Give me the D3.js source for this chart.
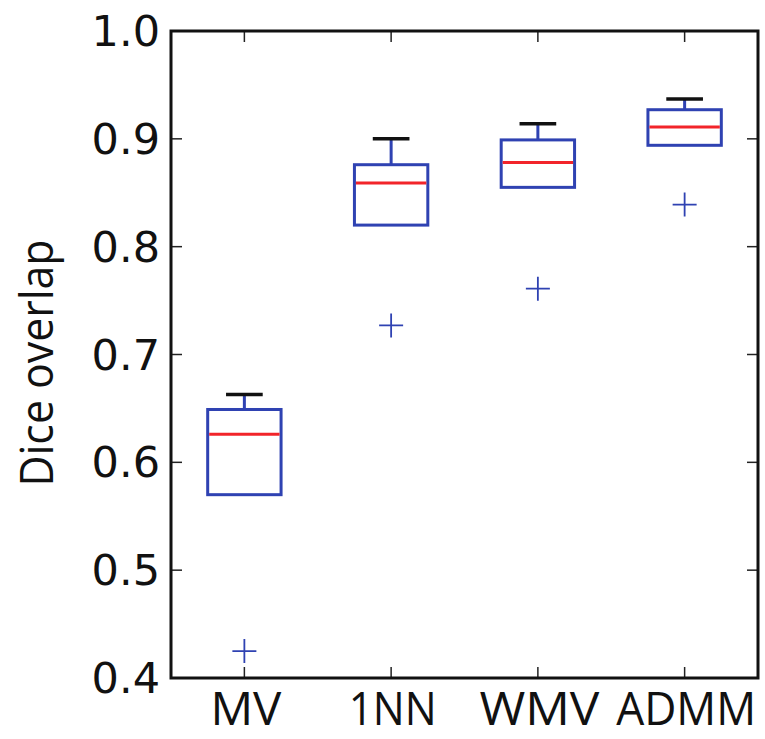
<!DOCTYPE html>
<html>
<head>
<meta charset="utf-8">
<script src="https://cdn.jsdelivr.net/npm/d3@7.9.0/dist/d3.min.js"></script>
<style>
  body { margin: 0; background: #fff; }
  svg { display: block; }
</style>
</head>
<body>
<svg id="chart" width="765" height="739"></svg>
<script>
const methods = ['MV', '1NN', 'WMV', 'ADMM'];
const whiskerHigh = [0.663, 0.900, 0.914, 0.937];
const q3 = [0.649, 0.876, 0.899, 0.927];
const median = [0.626, 0.859, 0.878, 0.911];
const q1 = [0.570, 0.820, 0.855, 0.894];
const whiskerLow = [0.570, 0.820, 0.855, 0.894];
const outliers = [0.425, 0.727, 0.761, 0.839];
const yTicks = [0.4, 0.5, 0.6, 0.7, 0.8, 0.9, 1.0];

const svg = d3.select('#chart');
const plotL = 171, plotR = 758, plotT = 31, plotB = 678;

// positions 1..4, like a matplotlib boxplot with xlim 0.5..4.5
const x = d3.scaleLinear().domain([0.5, 4.5]).range([plotL, plotR]);
const y = d3.scaleLinear().domain([0.4, 1.0]).range([plotB, plotT]);

const blue = '#2f42b2';
const red = '#f2242a';
const boxW = x(1.5) - x(1);   // box width 0.5
const capW = x(1.25) - x(1);  // cap width 0.25
const labelLen = { 'MV': 71, '1NN': 88, 'WMV': 120, 'ADMM': 140 };

const data = methods.map((m, i) => ({
  m, pos: i + 1,
  hi: whiskerHigh[i], q3: q3[i], med: median[i], q1: q1[i], lo: whiskerLow[i], out: outliers[i]
}));

const g = svg.append('g');

// ticks, inward on all four sides
const tickLen = 11;
yTicks.forEach(t => {
  g.append('line').attr('x1', plotL).attr('x2', plotL + tickLen)
    .attr('y1', y(t)).attr('y2', y(t)).attr('stroke', '#222').attr('stroke-width', 1.5);
  g.append('line').attr('x1', plotR).attr('x2', plotR - tickLen)
    .attr('y1', y(t)).attr('y2', y(t)).attr('stroke', '#222').attr('stroke-width', 1.5);
  g.append('text').attr('x', plotL - 11).attr('y', y(t))
    .attr('text-anchor', 'end').attr('dominant-baseline', 'central')
    .attr('font-family', 'DejaVu Sans').attr('font-size', 43).attr('fill', '#111')
    .text(d3.format('.1f')(t));
});
data.forEach(d => {
  g.append('line').attr('x1', x(d.pos)).attr('x2', x(d.pos))
    .attr('y1', plotT).attr('y2', plotT + tickLen).attr('stroke', '#222').attr('stroke-width', 1.5);
  g.append('line').attr('x1', x(d.pos)).attr('x2', x(d.pos))
    .attr('y1', plotB).attr('y2', plotB - tickLen).attr('stroke', '#222').attr('stroke-width', 1.5);
  g.append('text').attr('x', x(d.pos) + 1.5).attr('y', 725)
    .attr('text-anchor', 'middle')
    .attr('font-family', 'Open Sans').attr('font-size', 45).attr('fill', '#111')
    .attr('textLength', labelLen[d.m]).attr('lengthAdjust', 'spacingAndGlyphs')
    .text(d.m);
});

// boxes
const boxes = g.selectAll('.box').data(data).join('g').attr('class', 'box');
boxes.append('line')
  .attr('x1', d => x(d.pos)).attr('x2', d => x(d.pos))
  .attr('y1', d => y(d.q3)).attr('y2', d => y(d.hi))
  .attr('stroke', blue).attr('stroke-width', 3);
boxes.append('line')
  .attr('x1', d => x(d.pos)).attr('x2', d => x(d.pos))
  .attr('y1', d => y(d.q1)).attr('y2', d => y(d.lo))
  .attr('stroke', blue).attr('stroke-width', 3);
boxes.append('line')
  .attr('x1', d => x(d.pos) - capW / 2).attr('x2', d => x(d.pos) + capW / 2)
  .attr('y1', d => y(d.hi)).attr('y2', d => y(d.hi))
  .attr('stroke', '#111').attr('stroke-width', 3.5);
boxes.append('line')
  .attr('x1', d => x(d.pos) - capW / 2).attr('x2', d => x(d.pos) + capW / 2)
  .attr('y1', d => y(d.lo)).attr('y2', d => y(d.lo))
  .attr('stroke', d => d.lo === d.q1 ? 'none' : '#111').attr('stroke-width', 3.5);
boxes.append('rect')
  .attr('x', d => x(d.pos) - boxW / 2).attr('width', boxW)
  .attr('y', d => y(d.q3)).attr('height', d => y(d.q1) - y(d.q3))
  .attr('fill', 'none').attr('stroke', blue).attr('stroke-width', 3);
boxes.append('line')
  .attr('x1', d => x(d.pos) - boxW / 2 + 1.5).attr('x2', d => x(d.pos) + boxW / 2 - 1.5)
  .attr('y1', d => y(d.med)).attr('y2', d => y(d.med))
  .attr('stroke', red).attr('stroke-width', 3);

// outliers as "+"
const plus = 12;
boxes.append('path')
  .attr('d', d => `M${x(d.pos) - plus},${y(d.out)}H${x(d.pos) + plus}M${x(d.pos)},${y(d.out) - plus}V${y(d.out) + plus}`)
  .attr('stroke', blue).attr('stroke-width', 1.8).attr('fill', 'none');

// frame
g.append('rect').attr('x', plotL).attr('y', plotT)
  .attr('width', plotR - plotL).attr('height', plotB - plotT)
  .attr('fill', 'none').attr('stroke', '#111').attr('stroke-width', 3);

// y label
g.append('text')
  .attr('transform', `translate(53,363) rotate(-90)`)
  .attr('text-anchor', 'middle')
  .attr('font-family', 'Open Sans').attr('font-size', 46).attr('fill', '#111')
  .attr('textLength', 247).attr('lengthAdjust', 'spacingAndGlyphs')
  .text('Dice overlap');
</script>
</body>
</html>
